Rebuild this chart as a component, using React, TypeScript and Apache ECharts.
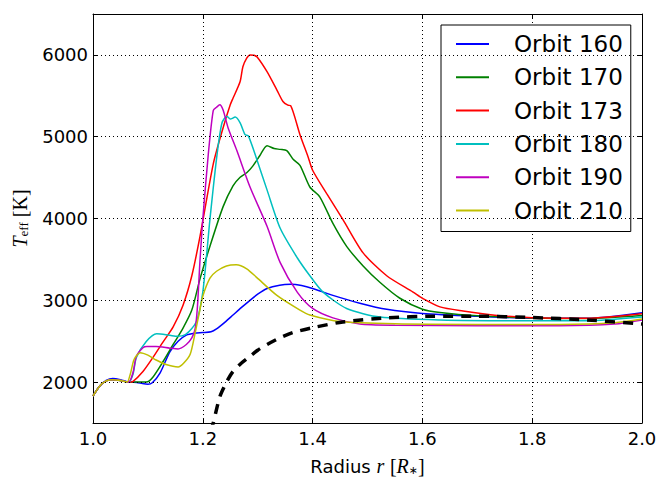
import React, { useEffect, useRef } from "react";
import * as echarts from "echarts";

const xTicks = [1.0, 1.2, 1.4, 1.6, 1.8, 2.0];
const yTicks = [2000, 3000, 4000, 5000, 6000];

const legendNames = ["Orbit 160", "Orbit 170", "Orbit 173", "Orbit 180", "Orbit 190", "Orbit 210"];
const colors = ["#0000ff", "#008000", "#ff0000", "#00bfbf", "#bf00bf", "#bfbf00"];

const orbit160 = [[1.0,1830],[1.012,1950],[1.024,2020],[1.036,2045],[1.05,2030],[1.065,2000],[1.08,1995],[1.09,1982],[1.1,1975],[1.108,1992],[1.122,2110],[1.14,2370],[1.155,2500],[1.17,2575],[1.185,2598],[1.2,2605],[1.215,2615],[1.225,2650],[1.24,2730],[1.255,2820],[1.27,2910],[1.286,3000],[1.3,3075],[1.317,3145],[1.34,3185],[1.36,3195],[1.38,3180],[1.4,3145],[1.437,3060],[1.486,2965],[1.535,2890],[1.6,2840],[1.7,2805],[1.8,2780],[1.9,2780],[1.95,2805],[2.0,2848]];
const orbit170 = [[1.0,1830],[1.012,1950],[1.024,2015],[1.036,2030],[1.05,2020],[1.065,2000],[1.08,2000],[1.097,2000],[1.109,2060],[1.128,2255],[1.146,2460],[1.164,2660],[1.18,2880],[1.195,3265],[1.213,3660],[1.237,4145],[1.255,4400],[1.268,4505],[1.28,4560],[1.291,4640],[1.304,4770],[1.317,4890],[1.33,4855],[1.341,4845],[1.353,4830],[1.365,4720],[1.377,4650],[1.395,4385],[1.413,4265],[1.437,3940],[1.462,3660],[1.492,3420],[1.523,3217],[1.559,3025],[1.6,2890],[1.632,2850],[1.7,2810],[1.8,2785],[1.9,2778],[2.0,2815]];
const orbit173 = [[1.0,1830],[1.012,1950],[1.024,2015],[1.036,2030],[1.05,2020],[1.065,2000],[1.073,2010],[1.091,2130],[1.109,2300],[1.128,2495],[1.146,2675],[1.164,2940],[1.18,3300],[1.195,3785],[1.219,4665],[1.237,5110],[1.25,5390],[1.255,5470],[1.268,5675],[1.273,5855],[1.28,5960],[1.286,6000],[1.293,5995],[1.299,5975],[1.317,5795],[1.335,5570],[1.346,5430],[1.355,5385],[1.36,5380],[1.377,5025],[1.392,4750],[1.4,4590],[1.426,4300],[1.455,3990],[1.492,3580],[1.535,3300],[1.583,3100],[1.6,3025],[1.632,2920],[1.674,2870],[1.736,2815],[1.8,2788],[1.9,2780],[2.0,2835]];
const orbit180 = [[1.0,1830],[1.012,1950],[1.024,2015],[1.036,2030],[1.05,2020],[1.065,2000],[1.073,2100],[1.079,2300],[1.097,2495],[1.116,2590],[1.133,2580],[1.152,2560],[1.169,2585],[1.188,2735],[1.2,3100],[1.213,3990],[1.226,4785],[1.235,5170],[1.244,5250],[1.25,5215],[1.259,5240],[1.268,5170],[1.277,5025],[1.283,5010],[1.299,4710],[1.317,4350],[1.341,3880],[1.372,3520],[1.395,3300],[1.419,3100],[1.462,2900],[1.523,2795],[1.632,2760],[1.8,2750],[1.9,2750],[2.0,2795]];
const orbit190 = [[1.0,1830],[1.012,1950],[1.024,2015],[1.036,2030],[1.05,2020],[1.065,2000],[1.073,2120],[1.079,2315],[1.091,2420],[1.098,2435],[1.115,2435],[1.14,2415],[1.155,2405],[1.17,2460],[1.18,2540],[1.186,2650],[1.19,2900],[1.195,3500],[1.2,3990],[1.21,4785],[1.219,5320],[1.225,5360],[1.231,5390],[1.237,5325],[1.246,5110],[1.262,4830],[1.286,4385],[1.317,3905],[1.341,3460],[1.372,3100],[1.4,2900],[1.437,2785],[1.486,2710],[1.55,2695],[1.7,2690],[1.85,2690],[1.95,2710],[2.0,2760]];
const orbit210 = [[1.0,1830],[1.012,1950],[1.024,2015],[1.036,2030],[1.05,2020],[1.062,2000],[1.068,2100],[1.075,2280],[1.086,2360],[1.1,2330],[1.115,2270],[1.133,2215],[1.155,2185],[1.165,2230],[1.177,2340],[1.186,2600],[1.194,2860],[1.2,3050],[1.213,3270],[1.225,3355],[1.243,3420],[1.261,3435],[1.28,3385],[1.298,3280],[1.335,3060],[1.377,2880],[1.395,2820],[1.45,2740],[1.55,2712],[1.7,2705],[1.85,2705],[1.95,2725],[2.0,2770]];
const equilibrium = [[1.214,1400],[1.219,1500],[1.231,1820],[1.244,2010],[1.255,2130],[1.27,2230],[1.286,2315],[1.3,2390],[1.317,2460],[1.34,2540],[1.364,2605],[1.4,2665],[1.455,2735],[1.535,2785],[1.62,2805],[1.7,2805],[1.8,2790],[1.9,2760],[2.0,2710]];

const orbitData = [orbit160, orbit170, orbit173, orbit180, orbit190, orbit210];

const tickFont = { fontFamily: "DejaVu Sans", fontSize: 18, color: "#000" };

export default function App() {
  const ref = useRef<HTMLDivElement>(null);
  useEffect(() => {
    if (!ref.current) return;
    const chart = echarts.init(ref.current, undefined, { renderer: "svg" });
    const orbitSeries = orbitData.map((d, i) => ({
      name: legendNames[i],
      type: "line",
      data: d,
      symbol: "none",
      showSymbol: false,
      smooth: 0.25,
      z: 3,
      lineStyle: { color: colors[i], width: 1.5 },
      itemStyle: { color: colors[i] },
    }));
    const option: any = {
      animation: false,
      backgroundColor: "#fff",
      grid: { left: 93, right: 19, top: 14, bottom: 51, show: false },
      legend: {
        orient: "vertical",
        left: 441,
        top: 25,
        data: legendNames.map((n) => ({ name: n, icon: "rect" })),
        backgroundColor: "#fff",
        borderColor: "#000",
        borderWidth: 1,
        borderRadius: 0,
        padding: [7, 8, 9, 15],
        itemWidth: 33,
        itemHeight: 2,
        itemGap: 9.3,
        selectedMode: false,
        textStyle: { fontFamily: "DejaVu Sans", fontSize: 23, lineHeight: 24, color: "#000", padding: [0, 0, 0, 20] },
      },
      xAxis: [
        {
          type: "value",
          min: 1.0,
          max: 2.0,
          interval: 0.2,
          name: "{a|Radius }{i|r}{a| }{s|[}{i|R}{sub|∗}{s|]}",
          nameLocation: "middle",
          nameGap: 33,
          nameTextStyle: {
            color: "#000",
            rich: {
              a: { fontFamily: "DejaVu Sans", fontSize: 18, color: "#000" },
              i: { fontFamily: "Liberation Serif", fontStyle: "italic", fontSize: 20, color: "#000" },
              s: { fontFamily: "Liberation Serif", fontSize: 20, color: "#000" },
              sub: { fontFamily: "DejaVu Sans", fontSize: 11, color: "#000", padding: [8, 0, 0, 0] },
            },
          },
          axisLine: { show: true, lineStyle: { color: "#000", width: 1 } },
          axisTick: { show: true, inside: true, length: 5, lineStyle: { color: "#000" } },
          axisLabel: { ...tickFont, margin: 6, formatter: (v: number) => v.toFixed(1) },
          splitLine: { show: true, lineStyle: { color: "#000", width: 1, type: [1, 3] } },
        },
        {
          type: "value",
          position: "top",
          min: 1.0,
          max: 2.0,
          interval: 0.2,
          axisLine: { show: true, lineStyle: { color: "#000", width: 1 } },
          axisTick: { show: true, inside: true, length: 5, lineStyle: { color: "#000" } },
          axisLabel: { show: false },
          splitLine: { show: false },
        },
      ],
      yAxis: [
        {
          type: "value",
          min: 1500,
          max: 6500,
          interval: 500,
          name: "{i|T}{sub|eff}{s| [K]}",
          nameLocation: "middle",
          nameRotate: 90,
          nameGap: 63,
          nameTextStyle: {
            color: "#000",
            rich: {
              i: { fontFamily: "Liberation Serif", fontStyle: "italic", fontSize: 20, color: "#000" },
              s: { fontFamily: "Liberation Serif", fontSize: 20, color: "#000" },
              sub: { fontFamily: "Liberation Serif", fontSize: 13, color: "#000", padding: [8, 0, 0, 0] },
            },
          },
          axisLine: { show: true, lineStyle: { color: "#000", width: 1 } },
          axisTick: { show: true, inside: true, length: 5, customValues: yTicks, lineStyle: { color: "#000" } },
          axisLabel: { ...tickFont, margin: 5, customValues: yTicks, formatter: (v: number) => String(v) },
          splitLine: { show: false },
        },
        {
          type: "value",
          position: "right",
          min: 1500,
          max: 6500,
          interval: 500,
          axisLine: { show: true, lineStyle: { color: "#000", width: 1 } },
          axisTick: { show: true, inside: true, length: 5, customValues: yTicks, lineStyle: { color: "#000" } },
          axisLabel: { show: false },
          splitLine: { show: false },
        },
      ],
      series: [
        {
          name: "grid",
          type: "line",
          data: [],
          z: 1,
          silent: true,
          markLine: {
            silent: true,
            symbol: "none",
            label: { show: false },
            lineStyle: { color: "#000", width: 1, type: [1, 3] },
            data: yTicks.map((v) => ({ yAxis: v })),
          },
        },
        ...orbitSeries,
        {
          name: "Equilibrium",
          type: "line",
          data: equilibrium,
          symbol: "none",
          smooth: 0.25,
          z: 4,
          lineStyle: { color: "#000", width: 3.5, type: [10, 8] },
        },
      ],
    };
    chart.setOption(option);
    return () => chart.dispose();
  }, []);
  return (
    <div
      ref={ref}
      style={{ position: "absolute", left: 0, top: 0, width: 661, height: 481, background: "#fff" }}
    />
  );
}
